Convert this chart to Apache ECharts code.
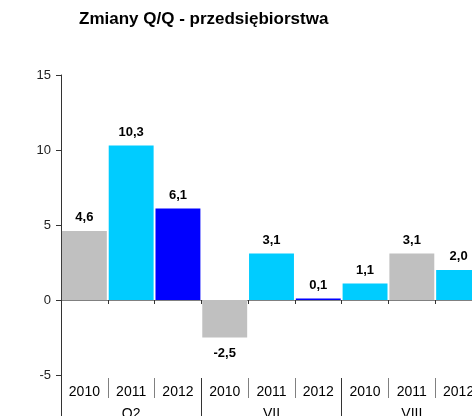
<!DOCTYPE html>
<html>
<head>
<meta charset="utf-8">
<script src="https://cdn.jsdelivr.net/npm/echarts@6/dist/echarts.min.js"></script>
<style>
  html, body { margin: 0; padding: 0; background: #fff; }
  #container { width: 472px; height: 416px; }
</style>
</head>
<body>
<div id="container"></div>
<script>
var years = ['2010', '2011', '2012', '2010', '2011', '2012', '2010', '2011', '2012'];
var groups = ['Q2', 'VII', 'VIII'];
var values = [4.6, 10.3, 6.1, -2.5, 3.1, 0.1, 1.1, 3.1, 2.0];
var barColors = ['#c0c0c0', '#00ccff', '#0000ff', '#c0c0c0', '#00ccff', '#0000ff', '#00ccff', '#c0c0c0', '#00ccff'];
var yTicks = [-5, 0, 5, 10, 15];

var font = 'Arial, "Liberation Sans", sans-serif';
var myChart = echarts.init(document.getElementById('container'));

var barData = values.map(function (v, i) {
    return {
        value: v,
        itemStyle: {color: barColors[i]},
        label: {position: v < 0 ? 'bottom' : 'top', distance: v < 0 ? 9 : 7}
    };
});

var option = {
    animation: false,
    title: {
        text: 'Zmiany Q/Q - przedsiębiorstwa',
        left: 74,
        top: 6,
        textStyle: {fontFamily: font, fontSize: 17, fontWeight: 'bold', color: '#000'}
    },
    grid: {left: 61, top: 75, right: -10, bottom: -4, outerBoundsMode: 'none'},
    xAxis: [
        {
            type: 'category',
            data: years,
            axisLine: {onZero: true, lineStyle: {color: '#808080', width: 1}},
            axisTick: {show: true, length: 4, lineStyle: {color: '#333'}},
            axisLabel: {show: false}
        },
        {
            type: 'category',
            data: years,
            position: 'bottom',
            offset: -42,
            axisLine: {show: false, onZero: false},
            axisTick: {show: true, length: 20, lineStyle: {color: '#808080'}},
            axisLabel: {margin: 7, fontFamily: font, fontSize: 14, color: '#000'}
        },
        {
            type: 'category',
            data: groups,
            position: 'bottom',
            offset: -42,
            axisLine: {show: false, onZero: false},
            axisTick: {show: true, length: 45, lineStyle: {color: '#333'}},
            axisLabel: {margin: 29, fontFamily: font, fontSize: 14, color: '#000'}
        }
    ],
    yAxis: {
        type: 'value',
        min: -8,
        max: 15,
        splitLine: {show: false},
        axisLine: {show: true, lineStyle: {color: '#333'}},
        axisTick: {show: true, length: 5, customValues: yTicks, lineStyle: {color: '#333'}},
        axisLabel: {customValues: yTicks, margin: 10, fontFamily: font, fontSize: 13, color: '#222'}
    },
    series: [{
        type: 'bar',
        xAxisIndex: 0,
        barWidth: '96%',
        data: barData,
        label: {
            show: true,
            fontFamily: font,
            fontSize: 13,
            fontWeight: 'bold',
            color: '#000',
            formatter: function (p) {
                return p.value.toFixed(1).replace('.', ',');
            }
        }
    }]
};

myChart.setOption(option);
</script>
</body>
</html>
